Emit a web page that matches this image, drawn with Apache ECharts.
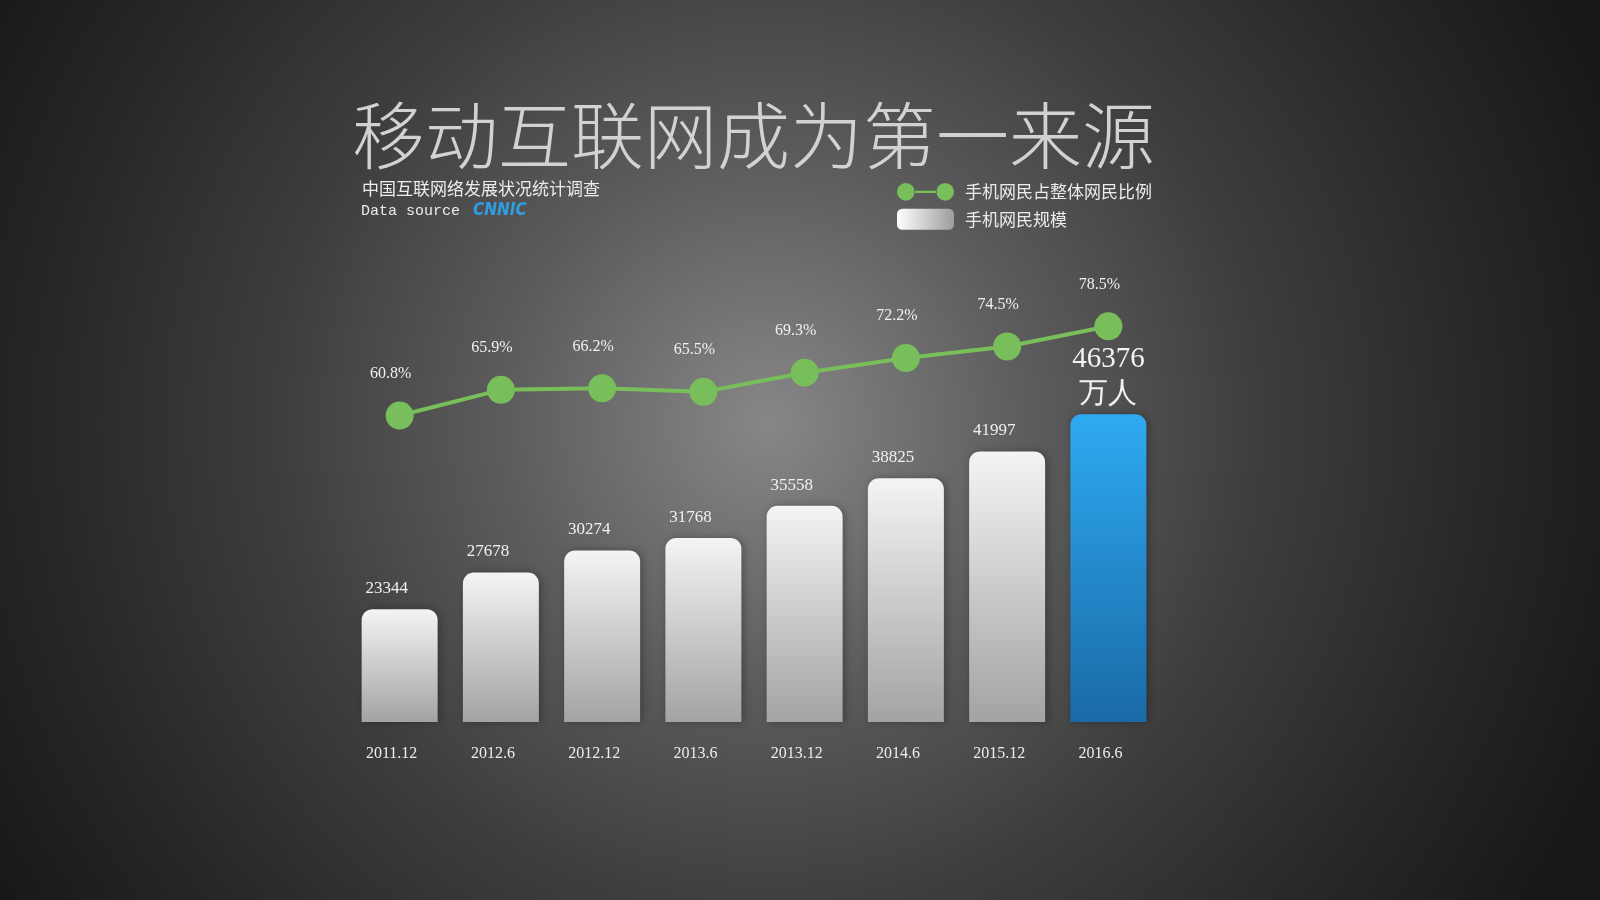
<!DOCTYPE html>
<html>
<head>
    <meta charset="utf-8" />
    <title>移动互联网成为第一来源</title>
    <script src="https://cdn.jsdelivr.net/npm/echarts@6/dist/echarts.min.js"></script>
    <style>
        html, body { margin: 0; padding: 0; background: #1a1a1a; }
        #main { width: 1600px; height: 900px; }
    </style>
</head>
<body>
    <div id="main"></div>
    <script>
        var periods = ['2011.12', '2012.6', '2012.12', '2013.6', '2013.12', '2014.6', '2015.12', '2016.6'];
        var users = [23344, 27678, 30274, 31768, 35558, 38825, 41997, 46376];
        var ratio = [60.8, 65.9, 66.2, 65.5, 69.3, 72.2, 74.5, 78.5];
        var ratioName = '手机网民占整体网民比例';
        var usersName = '手机网民规模';
        var unitText = '万人';

        var numFont = '"Liberation Serif", "DejaVu Serif", serif';
        var cjkFont = '"Noto Sans CJK SC", sans-serif';

        var greyBar = new echarts.graphic.LinearGradient(0, 0, 0, 1, [
            { offset: 0, color: '#f4f4f4' },
            { offset: 1, color: '#a3a3a3' }
        ]);
        var blueBar = new echarts.graphic.LinearGradient(0, 0, 0, 1, [
            { offset: 0, color: '#2eaaf2' },
            { offset: 1, color: '#1a6aa6' }
        ]);

        var barData = users.map(function (v, i) {
            if (i === users.length - 1) {
                return {
                    value: v,
                    itemStyle: { color: blueBar },
                    label: {
                        formatter: '{a|{c}}\n{a|' + unitText + '}',
                        offset: [0, 0],
                        distance: 2,
                        rich: {
                            a: { fontSize: 29, lineHeight: 35, color: '#f2f2f2', fontFamily: numFont }
                        }
                    }
                };
            }
            return v;
        });

        var myChart = echarts.init(document.getElementById('main'));

        myChart.setOption({
            backgroundColor: new echarts.graphic.RadialGradient(0.48, 0.47, 1.0, [
                { offset: 0, color: '#878787' },
                { offset: 0.3, color: '#5b5b5b' },
                { offset: 0.55, color: '#3d3d3d' },
                { offset: 0.8, color: '#272727' },
                { offset: 1, color: '#181818' }
            ]),
            graphic: [
                {
                    type: 'text',
                    left: 352,
                    top: 99,
                    style: {
                        text: '移动互联网成为第一来源',
                        font: '300 73px ' + cjkFont,
                        fill: '#d2d2d2'
                    }
                },
                {
                    type: 'text',
                    left: 362,
                    top: 180,
                    style: {
                        text: '中国互联网络发展状况统计调查',
                        font: '17px ' + cjkFont,
                        fill: '#ececec'
                    }
                },
                {
                    type: 'text',
                    left: 361,
                    top: 204,
                    style: {
                        text: 'Data source',
                        font: '15px "Liberation Mono", monospace',
                        fill: '#ececec'
                    }
                },
                {
                    type: 'text',
                    left: 473,
                    top: 202,
                    style: {
                        text: 'CNNIC',
                        font: 'italic bold 17px "DejaVu Sans Condensed", sans-serif',
                        fill: '#2f9fe3'
                    }
                }
            ],
            legend: {
                orient: 'vertical',
                left: 892,
                top: 178,
                itemWidth: 57,
                itemHeight: 21,
                itemGap: 8,
                textStyle: {
                    color: '#ececec',
                    fontSize: 17,
                    fontFamily: cjkFont,
                    padding: [0, 0, 0, 6]
                },
                data: [
                    {
                        name: ratioName,
                        icon: 'path://M1,10a9,9 0 1,0 18,0a9,9 0 1,0 -18,0Z M18,8.8L42,8.8L42,11.2L18,11.2Z M41,10a9,9 0 1,0 18,0a9,9 0 1,0 -18,0Z',
                        itemStyle: { color: '#78be5a', borderWidth: 0 }
                    },
                    {
                        name: usersName,
                        icon: 'roundRect',
                        itemStyle: {
                            color: new echarts.graphic.LinearGradient(0, 0, 1, 0, [
                                { offset: 0, color: '#ffffff' },
                                { offset: 1, color: '#9c9c9c' }
                            ]),
                            borderWidth: 0
                        }
                    }
                ]
            },
            grid: {
                left: 349,
                width: 810,
                top: 223,
                bottom: 178
            },
            xAxis: {
                type: 'category',
                data: periods,
                axisLine: { show: false },
                axisTick: { show: false },
                axisLabel: {
                    color: '#ececec',
                    fontSize: 16,
                    fontFamily: numFont,
                    margin: 24,
                    padding: [0, 16, 0, 0]
                }
            },
            yAxis: [
                {
                    type: 'value',
                    min: 10000,
                    max: 69000,
                    show: false,
                    splitLine: { show: false }
                },
                {
                    type: 'value',
                    min: 0,
                    max: 99,
                    show: false,
                    splitLine: { show: false }
                }
            ],
            series: [
                {
                    name: usersName,
                    type: 'bar',
                    yAxisIndex: 0,
                    barWidth: 76,
                    data: barData,
                    itemStyle: {
                        color: greyBar,
                        borderRadius: [11, 11, 0, 0],
                        shadowColor: 'rgba(0,0,0,0.3)',
                        shadowBlur: 8,
                        shadowOffsetX: 2
                    },
                    label: {
                        show: true,
                        position: 'top',
                        distance: 12,
                        offset: [-13, 0],
                        color: '#f0f0f0',
                        fontSize: 17,
                        fontFamily: numFont
                    }
                },
                {
                    name: ratioName,
                    type: 'line',
                    yAxisIndex: 1,
                    data: ratio,
                    symbol: 'circle',
                    symbolSize: 28,
                    lineStyle: { color: '#78be5a', width: 4 },
                    itemStyle: { color: '#78be5a' },
                    label: {
                        show: true,
                        position: 'top',
                        distance: 20,
                        offset: [-9, 0],
                        color: '#f0f0f0',
                        fontSize: 16,
                        fontFamily: numFont,
                        formatter: '{c}%'
                    },
                    z: 3
                }
            ]
        });
    </script>
</body>
</html>
